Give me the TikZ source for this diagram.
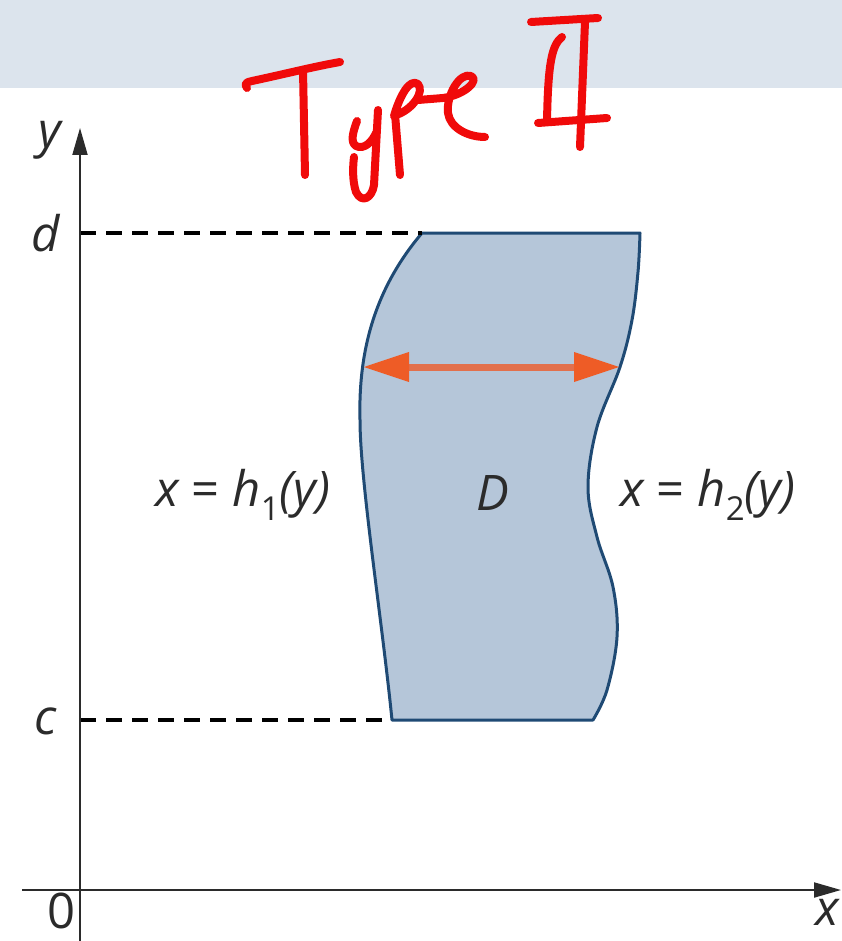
\documentclass[tikz,border=0pt]{standalone}
\usepackage{fontspec}
\setmainfont{Open Sans}
\usetikzlibrary{arrows.meta}
\definecolor{bandc}{HTML}{DCE4ED}
\definecolor{regionfill}{HTML}{B5C6D9}
\definecolor{regionline}{HTML}{1F4A74}
\definecolor{arrshaft}{HTML}{E2704C}
\definecolor{arrhead}{HTML}{EE5C26}
\definecolor{axisc}{HTML}{2B2B2B}
\definecolor{inkred}{HTML}{F00A0A}
\tikzset{
  lbl/.style={font=\fontsize{49}{52}\selectfont, text=axisc, inner sep=0pt},
  axisline/.style={draw=axisc, line width=2pt, -{Triangle[length=27pt,width=15pt]}},
  guide/.style={draw=black, line width=3.5pt, dash pattern=on 16pt off 10pt},
  regionstyle/.style={fill=regionfill, draw=regionline, line width=3pt, line join=round},
  widtharrow/.style={draw=arrshaft, line width=7pt,
     {Triangle[length=46pt,width=28pt,color=arrhead]}-{Triangle[length=46pt,width=28pt,color=arrhead]}},
  ink/.style={draw=inkred, line width=8pt, line cap=round, line join=round}
}
\newcommand{\sbs}[1]{\raisebox{-0.28em}{\fontsize{33}{33}\selectfont #1}}
\begin{document}
\begin{tikzpicture}[x=1pt,y=-1pt]
\useasboundingbox (0,0) rectangle (842,941);
\fill[bandc] (0,0) rectangle (842,88);

% region D
\path[regionstyle] (422,233) -- (640,233)
  -- plot[smooth,tension=0.6] coordinates {(640,233) (638,272) (632,320) (620,367) (597,427) (588,487) (597,537) (613,587) (617,637) (607,690) (593,720)}
  -- (392,720)
  .. controls (382,620) and (360,480) .. (360,420)
  .. controls (358,345) and (378,285) .. (422,233)
  -- cycle;

% coordinates
\coordinate (O) at (80,890);
\coordinate (ybot) at (80,941);
\coordinate (ytop) at (80,128);
\coordinate (xleft) at (22,890);
\coordinate (xright) at (841,890);
\coordinate (dax) at (80,233);
\coordinate (dreg) at (422,233);
\coordinate (cax) at (80,720);
\coordinate (creg) at (392,720);
\coordinate (wl) at (363,367);
\coordinate (wr) at (620,367);

% guides
\draw[guide] (dax) -- (dreg);
\draw[guide] (cax) -- (creg);

% axes
\draw[axisline] (ybot) -- (ytop);
\draw[axisline] (xleft) -- (xright);

% width arrow
\draw[widtharrow] (wl) -- (wr);

% labels
\node[lbl] (ylab) at (50,140) {\itshape y};
\node[lbl] (dlab) at (46,233) {\itshape d};
\node[lbl] (clab) at (46,721) {\itshape c};
\node[lbl] (zlab) at (62,911) {0};
\node[lbl] (xlab) at (827,912) {\itshape x};
\node[lbl] (h1lab) at (243,495) {\itshape x \upshape= \itshape h\upshape\sbs{1}\itshape(y)};
\node[lbl] (Dlab) at (493,493) {\itshape D};
\node[lbl] (h2lab) at (708,495) {\itshape x \upshape= \itshape h\upshape\sbs{2}\itshape(y)};

% handwritten "Type II"
\draw[ink] (247,88) .. controls (244,84) and (246,82) .. (252,81) .. controls (285,74) and (312,67) .. (340,62);
\draw[ink] (303,70) -- (305,175);
\draw[ink] (357,121) .. controls (353,132) and (350,142) .. (356,146) .. controls (364,150) and (372,142) .. (376,133);
\draw[ink] (378,110) -- (374,185) .. controls (372,198) and (362,204) .. (356,192) .. controls (352,180) and (353,165) .. (354,157);
\draw[ink] (395,114) -- (400,175);
\draw[ink] (394,116) .. controls (400,95) and (410,78) .. (418,84) .. controls (425,92) and (412,110) .. (396,115);
\draw[ink] (418,100) -- (443,98) .. controls (465,95) and (480,80) .. (471,76) .. controls (460,72) and (446,95) .. (448,113) .. controls (450,128) and (468,137) .. (485,137);
\draw[ink] (531,22) -- (598,18);
\draw[ink] (538,123) -- (607,118);
\draw[ink] (562,37) .. controls (552,45) and (548,62) .. (547,122);
\draw[ink] (585,22) -- (580,147);
\end{tikzpicture}
\end{document}
